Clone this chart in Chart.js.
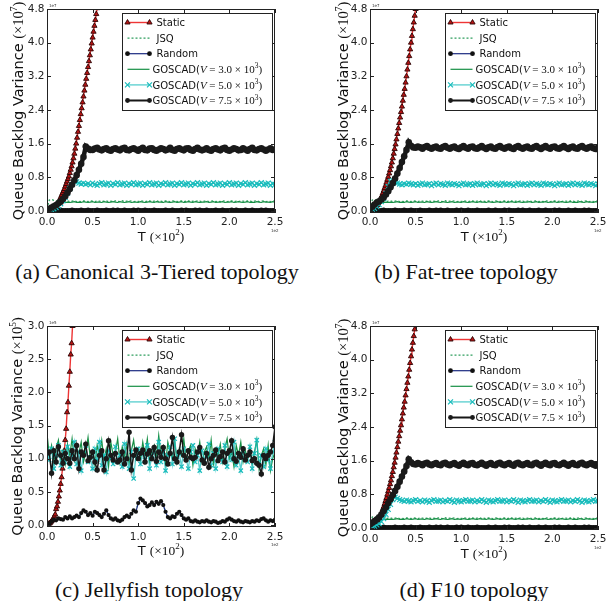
<!DOCTYPE html>
<html lang="en">
<head>
<meta charset="UTF-8">
<title>Queue Backlog Variance</title>
<script src="https://cdn.jsdelivr.net/npm/chart.js@4.4.2/dist/chart.umd.min.js"></script>
<style>
  body { margin: 0; background: #fff; width: 611px; height: 601px; position: relative; overflow: hidden; }
  canvas { position: absolute; }
  .cap {
    position: absolute;
    font-family: 'Liberation Serif', serif;
    font-size: 22px;
    color: #111;
    white-space: nowrap;
    transform: translate(-50%, -50%);
  }
</style>
</head>
<body>

<canvas id="ca" width="290" height="250" style="left:0;top:0"></canvas>
<canvas id="cb" width="288" height="250" style="left:323px;top:0"></canvas>
<canvas id="cc" width="290" height="250" style="left:0;top:317px"></canvas>
<canvas id="cd" width="288" height="250" style="left:323px;top:317px"></canvas>

<div class="cap" style="left:157px;top:272px">(a) Canonical 3-Tiered topology</div>
<div class="cap" style="left:466px;top:272px">(b) Fat-tree topology</div>
<div class="cap" style="left:149px;top:590px">(c) Jellyfish topology</div>
<div class="cap" style="left:474px;top:590px">(d) F10 topology</div>

<script>
// ---- data (T in raw units, shown as x10^2 on the axis) ----
const seriesNames = ['Static', 'JSQ', 'Random', 'GOSCAD(', 'GOSCAD(', 'GOSCAD('];
const goscadV = ['3.0', '5.0', '7.5'];
const xTicks = [0, 50, 100, 150, 200, 250];
const yTicksBig = [0, 0.8, 1.6, 2.4, 3.2, 4.0, 4.8];
const yTicksJelly = [0, 0.5, 1.0, 1.5, 2.0, 2.5, 3.0];

const tGrid = [
  0,2.5,5,7.5,10,12.5,15,17.5,20,22.5,
  25,27.5,30,32.5,35,37.5,40,42.5,45,47.5,
  50,52.5,55,57.5,60,62.5,65,67.5,70,72.5,
  75,77.5,80,82.5,85,87.5,90,92.5,95,97.5,
  100,102.5,105,107.5,110,112.5,115,117.5,120,122.5,
  125,127.5,130,132.5,135,137.5,140,142.5,145,147.5,
  150,152.5,155,157.5,160,162.5,165,167.5,170,172.5,
  175,177.5,180,182.5,185,187.5,190,192.5,195,197.5,
  200,202.5,205,207.5,210,212.5,215,217.5,220,222.5,
  225,227.5,230,232.5,235,237.5,240,242.5,245,247.5,
  250
];
const tStatic = [
  0,1,2,3,4,5,6,7,8,9,
  10,11,12,13,14,15,16,17,18,19,
  20,21,22,23,24,25,26,27,28,29,
  30,31,32,33,34,35,36,37,38,39,
  40,41,42,43,44,45,46,47,48,49,
  50,51,52,53,54,55,56
];

// Static
const staticA = [
  0,0.01,0.01,0.02,0.02,0.03,0.05,0.06,0.08,0.1,
  0.12,0.15,0.19,0.23,0.27,0.32,0.37,0.42,0.47,0.52,
  0.58,0.64,0.7,0.76,0.82,0.9,0.98,1.06,1.15,1.25,
  1.36,1.48,1.6,1.74,1.88,2.02,2.16,2.3,2.44,2.58,
  2.72,2.86,3.0,3.14,3.28,3.42,3.56,3.7,3.84,3.98,
  4.12,4.26,4.4,4.54,4.68,4.82,4.96
];
const staticB = [
  0,0.01,0.02,0.03,0.05,0.07,0.09,0.11,0.14,0.18,
  0.22,0.26,0.31,0.36,0.42,0.48,0.54,0.6,0.67,0.74,
  0.81,0.89,0.97,1.06,1.15,1.25,1.36,1.47,1.58,1.7,
  1.83,1.96,2.09,2.22,2.35,2.48,2.62,2.76,2.9,3.05,
  3.2,3.36,3.52,3.68,3.84,4.0,4.16,4.32,4.48,4.64,
  4.8,4.96
];
const staticD = [
  0,0.01,0.02,0.03,0.05,0.07,0.09,0.12,0.15,0.19,
  0.23,0.28,0.33,0.38,0.44,0.5,0.57,0.64,0.71,0.79,
  0.87,0.95,1.04,1.13,1.23,1.33,1.44,1.55,1.67,1.79,
  1.92,2.05,2.18,2.31,2.44,2.58,2.72,2.86,3.0,3.15,
  3.3,3.45,3.6,3.76,3.92,4.08,4.24,4.4,4.56,4.72,
  4.88,5.04
];
const staticC = [
  0,0.01,0.02,0.025,0.04,0.06,0.075,0.09,0.13,0.16,
  0.24,0.28,0.35,0.43,0.52,0.62,0.72,0.85,0.98,1.12,
  1.28,1.45,1.7,1.85,2.1,2.31,2.57,2.74,3.0,3.2
];

// JSQ, Random, GOSCAD(V=3.0e3) -- same level in (a), (b), (d)
const jsqLow = [
  0.05,0.26,0.27,0.25,0.24,0.23,0.24,0.22,0.23,0.24,
  0.22,0.23,0.24,0.22,0.23,0.22,0.24,0.23,0.22,0.24,
  0.23,0.22,0.24,0.23,0.22,0.23,0.24,0.22,0.23,0.22,
  0.24,0.23,0.22,0.24,0.22,0.23,0.24,0.23,0.22,0.23,
  0.22,0.24,0.23,0.22,0.23,0.24,0.22,0.23,0.24,0.22,
  0.23,0.22,0.24,0.23,0.22,0.24,0.23,0.22,0.23,0.24,
  0.22,0.23,0.24,0.22,0.23,0.22,0.24,0.23,0.22,0.23,
  0.24,0.22,0.23,0.24,0.22,0.23,0.22,0.24,0.23,0.22,
  0.23,0.24,0.22,0.23,0.22,0.24,0.23,0.22,0.24,0.23,
  0.22,0.23,0.24,0.22,0.23,0.24,0.22,0.23,0.22,0.24,
  0.23
];
const g3Low = [
  0,0.05,0.1,0.14,0.17,0.19,0.2,0.21,0.2,0.21,
  0.2,0.21,0.22,0.2,0.21,0.2,0.22,0.21,0.2,0.21,
  0.22,0.2,0.21,0.21,0.2,0.22,0.21,0.2,0.21,0.22,
  0.21,0.2,0.22,0.21,0.2,0.21,0.22,0.2,0.21,0.21,
  0.2,0.22,0.21,0.2,0.21,0.22,0.21,0.2,0.22,0.21,
  0.21,0.2,0.22,0.21,0.2,0.21,0.22,0.2,0.21,0.22,
  0.2,0.21,0.22,0.21,0.2,0.22,0.21,0.2,0.21,0.21,
  0.22,0.2,0.21,0.22,0.2,0.21,0.21,0.22,0.2,0.21,
  0.21,0.22,0.2,0.21,0.22,0.21,0.2,0.21,0.22,0.2,
  0.21,0.2,0.22,0.21,0.2,0.22,0.21,0.21,0.2,0.22,
  0.21
];
const randomLow = [
  0,0.01,0.01,0.02,0.01,0.01,0.02,0.01,0.01,0.01,
  0.01,0.02,0.01,0.01,0.01,0.02,0.01,0.01,0.02,0.01,
  0.01,0.01,0.02,0.01,0.01,0.01,0.02,0.01,0.01,0.02,
  0.01,0.02,0.01,0.01,0.02,0.01,0.01,0.01,0.02,0.01,
  0.02,0.01,0.01,0.02,0.01,0.01,0.01,0.02,0.01,0.01,
  0.01,0.01,0.02,0.01,0.01,0.02,0.01,0.01,0.01,0.02,
  0.01,0.02,0.01,0.01,0.01,0.02,0.01,0.02,0.01,0.01,
  0.02,0.01,0.01,0.01,0.02,0.01,0.01,0.02,0.01,0.01,
  0.01,0.02,0.01,0.02,0.01,0.01,0.01,0.02,0.01,0.01,
  0.02,0.01,0.01,0.01,0.02,0.01,0.02,0.01,0.01,0.01,
  0.01
];

// GOSCAD(V=5.0e3)
const g5A = [
  0,0.01,0.03,0.05,0.08,0.12,0.17,0.24,0.32,0.42,
  0.53,0.63,0.7,0.69,0.66,0.64,0.66,0.63,0.65,0.62,
  0.66,0.63,0.61,0.65,0.67,0.62,0.64,0.66,0.61,0.65,
  0.63,0.67,0.62,0.64,0.66,0.61,0.65,0.63,0.67,0.62,
  0.64,0.66,0.61,0.65,0.63,0.67,0.62,0.64,0.66,0.61,
  0.65,0.63,0.67,0.62,0.64,0.66,0.61,0.65,0.63,0.67,
  0.62,0.64,0.66,0.61,0.65,0.63,0.67,0.62,0.64,0.66,
  0.61,0.65,0.63,0.67,0.62,0.64,0.66,0.61,0.65,0.63,
  0.67,0.62,0.64,0.66,0.61,0.65,0.63,0.67,0.62,0.64,
  0.66,0.61,0.65,0.63,0.67,0.62,0.64,0.66,0.61,0.65,
  0.63
];
const g5B = [
  0.02,0.04,0.06,0.1,0.15,0.22,0.3,0.42,0.58,0.7,
  0.72,0.68,0.66,0.64,0.62,0.65,0.63,0.66,0.64,0.62,
  0.65,0.61,0.64,0.66,0.62,0.63,0.65,0.6,0.64,0.66,
  0.62,0.65,0.63,0.61,0.66,0.64,0.62,0.65,0.63,0.6,
  0.64,0.66,0.62,0.63,0.65,0.61,0.64,0.66,0.62,0.63,
  0.65,0.6,0.64,0.66,0.62,0.65,0.63,0.61,0.66,0.64,
  0.62,0.65,0.63,0.6,0.64,0.66,0.62,0.63,0.65,0.61,
  0.64,0.66,0.62,0.65,0.63,0.61,0.66,0.64,0.62,0.65,
  0.63,0.6,0.64,0.66,0.62,0.63,0.65,0.61,0.64,0.66,
  0.62,0.65,0.63,0.61,0.66,0.64,0.62,0.65,0.63,0.6,
  0.64
];
const g5D = [
  0,0.02,0.04,0.07,0.1,0.15,0.22,0.32,0.44,0.56,
  0.67,0.73,0.7,0.67,0.65,0.63,0.66,0.64,0.62,0.65,
  0.67,0.63,0.65,0.62,0.66,0.64,0.61,0.65,0.67,0.63,
  0.64,0.66,0.62,0.65,0.63,0.67,0.64,0.61,0.66,0.64,
  0.62,0.65,0.67,0.63,0.64,0.66,0.62,0.65,0.63,0.67,
  0.64,0.61,0.66,0.64,0.62,0.65,0.67,0.63,0.64,0.66,
  0.62,0.65,0.63,0.67,0.64,0.61,0.66,0.64,0.62,0.65,
  0.67,0.63,0.64,0.66,0.62,0.65,0.63,0.67,0.64,0.61,
  0.66,0.64,0.62,0.65,0.67,0.63,0.64,0.66,0.62,0.65,
  0.63,0.67,0.64,0.61,0.66,0.64,0.62,0.65,0.67,0.63,
  0.64
];

// GOSCAD(V=7.5e3)
const g75A = [
  0.02,0.05,0.08,0.11,0.14,0.18,0.22,0.28,0.35,0.43,
  0.52,0.62,0.73,0.85,0.98,1.12,1.28,1.53,1.48,1.45,
  1.45,1.48,1.5,1.46,1.44,1.47,1.49,1.45,1.43,1.47,
  1.49,1.46,1.44,1.48,1.5,1.45,1.44,1.47,1.49,1.46,
  1.43,1.47,1.5,1.45,1.44,1.48,1.49,1.45,1.43,1.46,
  1.49,1.47,1.44,1.46,1.5,1.45,1.43,1.47,1.49,1.46,
  1.44,1.48,1.49,1.45,1.43,1.47,1.5,1.46,1.44,1.46,
  1.49,1.45,1.43,1.47,1.49,1.46,1.44,1.48,1.5,1.45,
  1.43,1.46,1.49,1.47,1.44,1.45,1.49,1.46,1.43,1.47,
  1.5,1.45,1.44,1.47,1.49,1.46,1.43,1.46,1.49,1.45,
  1.46
];
const g75B = [
  0.05,0.1,0.15,0.2,0.23,0.27,0.32,0.39,0.47,0.56,
  0.66,0.77,0.89,1.02,1.16,1.3,1.45,1.63,1.55,1.51,
  1.5,1.53,1.51,1.48,1.52,1.54,1.5,1.48,1.51,1.53,
  1.49,1.48,1.52,1.54,1.5,1.48,1.51,1.53,1.49,1.47,
  1.51,1.54,1.5,1.48,1.52,1.53,1.49,1.48,1.51,1.54,
  1.5,1.47,1.51,1.53,1.49,1.48,1.52,1.54,1.5,1.48,
  1.51,1.53,1.49,1.47,1.52,1.54,1.5,1.48,1.51,1.53,
  1.49,1.48,1.52,1.54,1.5,1.47,1.51,1.54,1.5,1.48,
  1.52,1.53,1.49,1.48,1.51,1.54,1.5,1.47,1.51,1.53,
  1.49,1.48,1.52,1.54,1.5,1.48,1.51,1.53,1.49,1.47,
  1.5
];
const g75D = [
  0.08,0.12,0.16,0.2,0.25,0.32,0.4,0.49,0.59,0.68,
  0.78,0.88,0.98,1.1,1.22,1.34,1.47,1.63,1.56,1.52,
  1.51,1.54,1.52,1.49,1.53,1.55,1.51,1.49,1.52,1.54,
  1.5,1.49,1.53,1.55,1.51,1.49,1.52,1.54,1.5,1.48,
  1.52,1.55,1.51,1.49,1.53,1.54,1.5,1.49,1.52,1.55,
  1.51,1.48,1.52,1.54,1.5,1.49,1.53,1.55,1.51,1.49,
  1.52,1.54,1.5,1.48,1.53,1.55,1.51,1.49,1.52,1.54,
  1.5,1.49,1.53,1.55,1.51,1.48,1.52,1.55,1.51,1.49,
  1.53,1.54,1.5,1.49,1.52,1.55,1.51,1.48,1.52,1.54,
  1.5,1.49,1.53,1.55,1.51,1.49,1.52,1.54,1.5,1.48,
  1.51
];

// Jellyfish (c), units of 1e5
const randomC = [
  0,0.02,0.05,0.08,0.07,0.1,0.09,0.08,0.12,0.1,
  0.13,0.1,0.12,0.14,0.12,0.18,0.22,0.2,0.15,0.18,
  0.14,0.2,0.18,0.15,0.12,0.17,0.22,0.15,0.1,0.08,
  0.1,0.07,0.06,0.08,0.12,0.14,0.12,0.17,0.22,0.2,
  0.33,0.4,0.37,0.33,0.28,0.3,0.34,0.3,0.35,0.32,
  0.36,0.3,0.2,0.12,0.1,0.13,0.12,0.17,0.2,0.15,
  0.1,0.08,0.1,0.06,0.05,0.07,0.05,0.04,0.06,0.05,
  0.07,0.05,0.04,0.06,0.05,0.03,0.04,0.06,0.05,0.08,
  0.1,0.08,0.06,0.05,0.07,0.05,0.04,0.06,0.05,0.04,
  0.06,0.05,0.07,0.06,0.09,0.1,0.07,0.05,0.07,0.06,
  0.08
];
const g3C = [
  1.38,1.05,1.2,0.95,1.15,1.28,1.0,1.12,0.92,1.22,
  1.05,1.3,0.98,1.15,1.08,1.25,0.95,1.1,1.32,1.0,
  1.12,0.9,1.2,1.05,1.28,0.98,1.15,0.88,1.25,1.05,
  1.1,1.3,0.95,1.18,1.02,1.22,0.92,1.12,1.28,1.0,
  1.15,0.98,1.25,1.05,1.3,0.95,1.12,1.2,1.0,1.35,
  1.05,1.18,0.92,1.25,1.1,1.0,1.28,0.95,1.15,1.05,
  1.3,0.98,1.12,1.2,0.9,1.15,1.05,1.25,0.95,1.1,
  1.18,1.0,1.28,0.92,1.12,1.05,1.22,0.95,1.15,1.3,
  1.0,1.1,0.88,1.2,1.05,1.25,0.95,1.12,1.0,1.18,
  0.92,1.1,1.28,0.85,1.05,1.15,0.9,1.2,0.82,1.0,
  1.1
];
const g5C = [
  1.12,0.98,1.15,0.85,1.05,1.2,0.9,1.1,0.95,1.18,
  0.88,1.05,1.25,0.92,1.1,0.82,1.08,1.2,0.95,1.02,
  0.85,1.15,0.98,1.25,0.9,1.05,0.8,1.12,1.0,0.92,
  1.18,0.95,1.05,0.88,1.22,1.0,0.85,1.1,0.7,1.05,
  1.15,0.92,1.08,0.98,1.2,0.85,1.05,1.12,0.9,1.25,
  0.95,1.1,0.82,1.05,1.18,0.92,1.3,0.98,1.08,0.88,
  1.15,1.0,0.85,1.1,1.2,0.95,1.05,0.82,1.12,0.98,
  1.05,1.22,0.9,1.08,0.85,1.15,1.0,0.95,1.2,0.88,
  1.1,0.98,1.25,0.9,1.05,0.82,1.12,1.0,0.95,1.18,
  0.85,1.08,1.28,0.92,1.05,0.88,1.15,0.98,0.85,1.1,
  1.25
];
const g75C = [
  1.08,1.1,0.78,1.12,0.95,1.18,1.05,0.93,1.08,1.0,
  0.93,1.12,1.0,1.2,0.85,1.1,1.05,1.22,0.97,1.02,
  1.1,0.95,0.83,1.05,1.12,0.83,1.0,1.27,1.05,0.98,
  1.08,0.95,0.98,1.1,0.92,1.0,1.4,0.83,1.05,1.13,
  1.0,1.08,1.13,0.95,1.07,1.12,1.0,1.17,0.96,1.1,
  1.02,1.17,1.0,0.92,1.08,1.32,1.0,0.95,1.1,1.36,
  1.05,0.98,1.12,1.02,1.0,1.02,1.1,1.17,0.98,0.93,
  1.08,0.87,1.0,1.05,1.13,0.97,1.03,1.1,0.95,1.08,
  1.12,1.27,1.0,0.96,1.08,1.02,1.15,0.98,1.05,1.1,
  0.97,1.0,0.93,0.9,0.77,1.05,1.0,1.05,1.1,1.2,
  1.48
];

// ---- styles ----
const st = {
  stat:  { line: '#ee3535', lw: 1.4, pt: 'triangle', r: 3, fill: '#b81414', edge: '#2a0404', pbw: 0.9 },
  jsq:   { line: '#2f9e5e', lw: 1.3, dash: [2, 2] },
  rnd:   { line: '#1a2a80', lw: 1.2, pt: 'circle', r: 2.6, fill: '#111', edge: '#111', pbw: 0 },
  g3:    { line: '#168f45', lw: 1.2 },
  g5:    { line: 'rgba(30,190,190,0.75)', lw: 1.3, pt: 'crossRot', r: 3.5, fill: '#19bcbc', edge: '#19bcbc', pbw: 1.2 },
  g75:   { line: '#161616', lw: 2, pt: 'circle', r: 3.3, fill: '#1a1a1a', edge: '#1a1a1a', pbw: 0 }
};
const legendStyles = [st.stat, st.jsq, st.rnd, st.g3, st.g5, st.g75];

const SANS = 'DejaVu Sans';
const SERIF = 'Liberation Serif';

function drawMixed(ctx, parts, cx, cy, rot, base) {
  ctx.save();
  ctx.translate(cx, cy);
  if (rot) ctx.rotate(rot);
  let w = 0;
  parts.forEach(p => { ctx.font = p.f; p.w = ctx.measureText(p.t).width; w += p.w; });
  let x = -w / 2;
  ctx.textBaseline = 'alphabetic';
  ctx.fillStyle = '#111';
  parts.forEach(p => { ctx.font = p.f; ctx.fillText(p.t, x, base + (p.dy || 0)); x += p.w; });
  ctx.restore();
}

function legendMark(ctx, s, x, y) {
  if (!s.pt) return;
  ctx.fillStyle = s.fill;
  ctx.strokeStyle = s.edge;
  ctx.lineWidth = s.pbw;
  const r = s.pt === 'circle' ? 2.4 : s.r;
  Chart.helpers.drawPoint(ctx, { pointStyle: s.pt, radius: r, rotation: 0, borderWidth: s.pbw }, x, y);
}

const framePlugin = {
  id: 'frame',
  afterDatasetsDraw(chart, args, o) {
    const { ctx, chartArea: a, scales } = chart;
    ctx.save();
    ctx.strokeStyle = '#222';
    ctx.lineWidth = 1;
    // inward ticks
    ctx.beginPath();
    xTicks.forEach(v => {
      const px = Math.round(scales.x.getPixelForValue(v)) + 0.5;
      ctx.moveTo(px, a.bottom); ctx.lineTo(px, a.bottom - 4);
      ctx.moveTo(px, a.top); ctx.lineTo(px, a.top + 4);
    });
    o.yTicks.forEach(v => {
      const py = Math.round(scales.y.getPixelForValue(v)) + 0.5;
      ctx.moveTo(a.left, py); ctx.lineTo(a.left + 4, py);
      ctx.moveTo(a.right, py); ctx.lineTo(a.right - 4, py);
    });
    ctx.stroke();
    ctx.strokeRect(Math.round(a.left) + 0.5, Math.round(a.top) + 0.5,
      Math.round(a.right - a.left) - 1, Math.round(a.bottom - a.top) - 1);

    // legend box
    const bw = 150, bh = 97;
    const bx = Math.round(a.right - 3 - bw) + 0.5, by = Math.round(a.top + 4) + 0.5;
    ctx.fillStyle = '#fff';
    ctx.fillRect(bx, by, bw, bh);
    ctx.strokeStyle = '#222';
    ctx.lineWidth = 1;
    ctx.strokeRect(bx, by, bw, bh);
    seriesNames.forEach((name, i) => {
      const s = legendStyles[i];
      const ry = by + 9 + i * 15.6;
      const x0 = bx + 5, x1 = bx + 27;
      ctx.save();
      ctx.strokeStyle = s.line;
      ctx.lineWidth = s.lw;
      ctx.setLineDash(s.dash || []);
      ctx.beginPath(); ctx.moveTo(x0, ry); ctx.lineTo(x1, ry); ctx.stroke();
      ctx.setLineDash([]);
      legendMark(ctx, s, x0, ry);
      legendMark(ctx, s, x1, ry);
      ctx.restore();
      ctx.fillStyle = '#111';
      ctx.textBaseline = 'alphabetic';
      if (i < 3) {
        ctx.font = '10px ' + SANS;
        ctx.fillText(name, bx + 34, ry + 3.6);
      } else {
        let tx = bx + 30;
        const parts = [
          { t: name, f: '10px ' + SANS },
          { t: 'V', f: 'italic 11px ' + SERIF },
          { t: ' = ' + goscadV[i - 3] + ' \u00d7 10', f: '11px ' + SERIF },
          { t: '3', f: '7.5px ' + SERIF, dy: -4.5 },
          { t: ')', f: '11px ' + SERIF }
        ];
        parts.forEach(p => {
          ctx.font = p.f;
          ctx.fillText(p.t, tx, ry + 3.6 + (p.dy || 0));
          tx += ctx.measureText(p.t).width;
        });
      }
    });

    // axis titles
    const cyMid = (a.top + a.bottom) / 2;
    drawMixed(ctx, [
      { t: 'Queue Backlog Variance ', f: '14.5px ' + SANS },
      { t: '(\u00d710', f: '14.5px ' + SERIF },
      { t: o.exp, f: '9.5px ' + SERIF, dy: -6 },
      { t: ')', f: '14.5px ' + SERIF }
    ], o.titleX, cyMid, -Math.PI / 2, 5.2);
    drawMixed(ctx, [
      { t: 'T ', f: '13px ' + SANS },
      { t: '(\u00d710', f: '13.5px ' + SERIF },
      { t: '2', f: '9px ' + SERIF, dy: -5.5 },
      { t: ')', f: '13.5px ' + SERIF }
    ], (a.left + a.right) / 2, a.bottom + 23, 0, 4.9);

    // offset texts
    ctx.font = '4px ' + SANS;
    ctx.fillStyle = '#333';
    ctx.fillText(o.off, a.left + 2, a.top - 2);
    ctx.fillText('1e2', a.right - 4, a.bottom + 19);
    ctx.restore();
  }
};

function pts(xs, ys) {
  return ys.map((y, i) => ({ x: xs[i], y: y }));
}

function ds(label, xs, ys, s, order, over) {
  const o = over || {};
  return {
    label: label,
    data: pts(xs, ys),
    borderColor: s.line,
    borderWidth: o.lw || s.lw,
    borderDash: s.dash || [],
    pointStyle: s.pt || 'circle',
    pointRadius: s.pt ? (o.r || s.r) : 0,
    pointBackgroundColor: s.fill || s.line,
    pointBorderColor: s.edge || s.line,
    pointBorderWidth: s.pbw || 0,
    tension: 0,
    fill: false,
    clip: 0,
    order: order
  };
}

function makePanel(p) {
  new Chart(document.getElementById(p.id), {
    type: 'line',
    data: {
      datasets: [
        ds('Static', tStatic, p.stat, st.stat, 6),
        ds('JSQ', tGrid, p.jsq, st.jsq, 5),
        ds('Random', tGrid, p.rnd, st.rnd, 4, p.rndO),
        ds('GOSCAD 3.0', tGrid, p.g3, st.g3, 3),
        ds('GOSCAD 5.0', tGrid, p.g5, st.g5, 2, p.g5O),
        ds('GOSCAD 7.5', tGrid, p.g75, st.g75, 1, p.g75O)
      ]
    },
    options: {
      responsive: false,
      animation: false,
      layout: { padding: { top: 9, right: p.padRight, left: 0, bottom: 0 } },
      plugins: {
        legend: { display: false },
        tooltip: { enabled: false },
        frame: { yTicks: p.yTicks, exp: p.exp, off: p.off, titleX: p.titleX }
      },
      scales: {
        x: {
          type: 'linear', min: 0, max: 250,
          grid: { display: false, drawTicks: false }, border: { display: false },
          afterBuildTicks: s => { s.ticks = xTicks.map(v => ({ value: v })); },
          afterFit: s => { s.height = p.xAxisH; },
          ticks: {
            color: '#222', padding: p.xPad, maxRotation: 0, autoSkip: false,
            font: { family: SANS, size: 10.5 },
            callback: v => (v / 100).toFixed(1)
          }
        },
        y: {
          type: 'linear', min: p.yMin, max: p.yMax,
          grid: { display: false, drawTicks: false }, border: { display: false },
          afterBuildTicks: s => { s.ticks = p.yTicks.map(v => ({ value: v })); },
          afterFit: s => { s.width = 47; },
          ticks: {
            color: '#222', padding: 2.5, autoSkip: false,
            font: { family: SANS, size: 10.5 },
            callback: v => v.toFixed(1)
          }
        }
      }
    },
    plugins: [framePlugin]
  });
}

const bandLine = { lw: 4.5 };
makePanel({ id: 'ca', stat: staticA, jsq: jsqLow, rnd: randomLow, g3: g3Low, g5: g5A, g75: g75A, g75O: bandLine,
  yMin: -0.05, yMax: 4.8, yTicks: yTicksBig, exp: '7', off: '1e7', padRight: 15, xAxisH: 37, titleX: 18, xPad: 2.5 });
makePanel({ id: 'cb', stat: staticB, jsq: jsqLow, rnd: randomLow, g3: g3Low, g5: g5B, g75: g75B, g75O: bandLine,
  yMin: -0.05, yMax: 4.8, yTicks: yTicksBig, exp: '7', off: '1e7', padRight: 13, xAxisH: 37, titleX: 20, xPad: 2.5 });
makePanel({ id: 'cc', stat: staticC, jsq: randomC, rnd: randomC, g3: g3C, g5: g5C, g75: g75C,
  yMin: -0.03, yMax: 3.0, yTicks: yTicksJelly, exp: '5', off: '1e5', padRight: 15, xAxisH: 40, titleX: 17, xPad: 4,
  rndO: { r: 2.1 }, g5O: { r: 3 }, g75O: { r: 2.7, lw: 1.5 } });
makePanel({ id: 'cd', stat: staticD, jsq: jsqLow, rnd: randomLow, g3: g3Low, g5: g5D, g75: g75D, g75O: bandLine,
  yMin: -0.05, yMax: 4.8, yTicks: yTicksBig, exp: '7', off: '1e7', padRight: 13, xAxisH: 37, titleX: 20, xPad: 2.5 });
</script>
</body>
</html>
